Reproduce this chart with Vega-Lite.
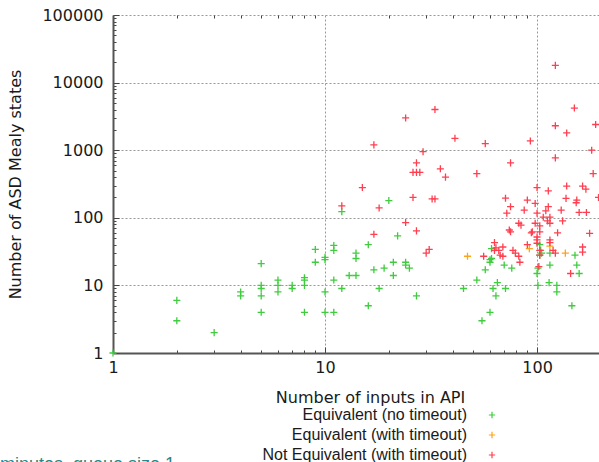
{
  "$schema": "https://vega.github.io/schema/vega-lite/v6.json",
  "width": 486,
  "height": 338,
  "autosize": {"type": "none"},
  "padding": {"left": 113, "top": 15, "right": 0, "bottom": 109},
  "title": {
    "text": "minutes, queue size 1",
    "orient": "bottom",
    "anchor": "start",
    "frame": "group",
    "dx": -113,
    "dy": -11,
    "font": "Liberation Sans",
    "fontSize": 18,
    "fontWeight": "normal",
    "color": "#2e8585"
  },
  "data": {
    "values": [
      {"n": 1, "s": 1, "r": "Equivalent (no timeout)"},
      {"n": 2, "s": 6, "r": "Equivalent (no timeout)"},
      {"n": 2, "s": 3, "r": "Equivalent (no timeout)"},
      {"n": 3, "s": 2, "r": "Equivalent (no timeout)"},
      {"n": 4, "s": 8, "r": "Equivalent (no timeout)"},
      {"n": 4, "s": 7, "r": "Equivalent (no timeout)"},
      {"n": 5, "s": 21, "r": "Equivalent (no timeout)"},
      {"n": 5, "s": 10, "r": "Equivalent (no timeout)"},
      {"n": 5, "s": 9, "r": "Equivalent (no timeout)"},
      {"n": 5, "s": 7, "r": "Equivalent (no timeout)"},
      {"n": 5, "s": 4, "r": "Equivalent (no timeout)"},
      {"n": 6, "s": 12, "r": "Equivalent (no timeout)"},
      {"n": 6, "s": 10, "r": "Equivalent (no timeout)"},
      {"n": 6, "s": 8, "r": "Equivalent (no timeout)"},
      {"n": 7, "s": 10, "r": "Equivalent (no timeout)"},
      {"n": 7, "s": 9, "r": "Equivalent (no timeout)"},
      {"n": 8, "s": 13, "r": "Equivalent (no timeout)"},
      {"n": 8, "s": 12, "r": "Equivalent (no timeout)"},
      {"n": 8, "s": 10, "r": "Equivalent (no timeout)"},
      {"n": 8, "s": 4, "r": "Equivalent (no timeout)"},
      {"n": 9, "s": 34, "r": "Equivalent (no timeout)"},
      {"n": 9, "s": 22, "r": "Equivalent (no timeout)"},
      {"n": 10, "s": 26, "r": "Equivalent (no timeout)"},
      {"n": 10, "s": 24, "r": "Equivalent (no timeout)"},
      {"n": 10, "s": 8, "r": "Equivalent (no timeout)"},
      {"n": 10, "s": 4, "r": "Equivalent (no timeout)"},
      {"n": 11, "s": 39, "r": "Equivalent (no timeout)"},
      {"n": 11, "s": 33, "r": "Equivalent (no timeout)"},
      {"n": 11, "s": 12, "r": "Equivalent (no timeout)"},
      {"n": 11, "s": 4, "r": "Equivalent (no timeout)"},
      {"n": 12, "s": 123, "r": "Equivalent (no timeout)"},
      {"n": 12, "s": 9, "r": "Equivalent (no timeout)"},
      {"n": 13, "s": 14, "r": "Equivalent (no timeout)"},
      {"n": 14, "s": 30, "r": "Equivalent (no timeout)"},
      {"n": 14, "s": 25, "r": "Equivalent (no timeout)"},
      {"n": 14, "s": 14, "r": "Equivalent (no timeout)"},
      {"n": 16, "s": 40, "r": "Equivalent (no timeout)"},
      {"n": 16, "s": 5, "r": "Equivalent (no timeout)"},
      {"n": 17, "s": 17, "r": "Equivalent (no timeout)"},
      {"n": 18, "s": 9, "r": "Equivalent (no timeout)"},
      {"n": 19, "s": 18, "r": "Equivalent (no timeout)"},
      {"n": 20, "s": 180, "r": "Equivalent (no timeout)"},
      {"n": 21, "s": 22, "r": "Equivalent (no timeout)"},
      {"n": 21, "s": 14, "r": "Equivalent (no timeout)"},
      {"n": 22, "s": 54, "r": "Equivalent (no timeout)"},
      {"n": 24, "s": 22, "r": "Equivalent (no timeout)"},
      {"n": 24, "s": 20, "r": "Equivalent (no timeout)"},
      {"n": 25, "s": 18, "r": "Equivalent (no timeout)"},
      {"n": 27, "s": 7, "r": "Equivalent (no timeout)"},
      {"n": 45, "s": 9, "r": "Equivalent (no timeout)"},
      {"n": 52, "s": 12, "r": "Equivalent (no timeout)"},
      {"n": 55, "s": 3, "r": "Equivalent (no timeout)"},
      {"n": 57, "s": 17, "r": "Equivalent (no timeout)"},
      {"n": 60, "s": 4, "r": "Equivalent (no timeout)"},
      {"n": 60, "s": 24, "r": "Equivalent (no timeout)"},
      {"n": 60, "s": 22, "r": "Equivalent (no timeout)"},
      {"n": 61, "s": 35, "r": "Equivalent (no timeout)"},
      {"n": 61, "s": 25, "r": "Equivalent (no timeout)"},
      {"n": 62, "s": 9, "r": "Equivalent (no timeout)"},
      {"n": 64, "s": 7, "r": "Equivalent (no timeout)"},
      {"n": 65, "s": 11, "r": "Equivalent (no timeout)"},
      {"n": 70, "s": 20, "r": "Equivalent (no timeout)"},
      {"n": 71, "s": 9, "r": "Equivalent (no timeout)"},
      {"n": 76, "s": 18, "r": "Equivalent (no timeout)"},
      {"n": 100, "s": 15, "r": "Equivalent (no timeout)"},
      {"n": 101, "s": 10, "r": "Equivalent (no timeout)"},
      {"n": 101, "s": 18, "r": "Equivalent (no timeout)"},
      {"n": 103, "s": 40, "r": "Equivalent (no timeout)"},
      {"n": 104, "s": 33, "r": "Equivalent (no timeout)"},
      {"n": 105, "s": 30, "r": "Equivalent (no timeout)"},
      {"n": 103, "s": 28, "r": "Equivalent (no timeout)"},
      {"n": 114, "s": 11, "r": "Equivalent (no timeout)"},
      {"n": 115, "s": 20, "r": "Equivalent (no timeout)"},
      {"n": 115, "s": 30, "r": "Equivalent (no timeout)"},
      {"n": 124, "s": 10, "r": "Equivalent (no timeout)"},
      {"n": 124, "s": 8, "r": "Equivalent (no timeout)"},
      {"n": 146, "s": 5, "r": "Equivalent (no timeout)"},
      {"n": 151, "s": 28, "r": "Equivalent (no timeout)"},
      {"n": 154, "s": 20, "r": "Equivalent (no timeout)"},
      {"n": 158, "s": 15, "r": "Equivalent (no timeout)"},
      {"n": 47, "s": 27, "r": "Equivalent (with timeout)"},
      {"n": 92, "s": 35, "r": "Equivalent (with timeout)"},
      {"n": 115, "s": 38, "r": "Equivalent (with timeout)"},
      {"n": 136, "s": 30, "r": "Equivalent (with timeout)"},
      {"n": 12, "s": 150, "r": "Not Equivalent (with timeout)"},
      {"n": 15, "s": 280, "r": "Not Equivalent (with timeout)"},
      {"n": 17, "s": 1200, "r": "Not Equivalent (with timeout)"},
      {"n": 17, "s": 57, "r": "Not Equivalent (with timeout)"},
      {"n": 18, "s": 140, "r": "Not Equivalent (with timeout)"},
      {"n": 24, "s": 3000, "r": "Not Equivalent (with timeout)"},
      {"n": 24, "s": 85, "r": "Not Equivalent (with timeout)"},
      {"n": 26, "s": 200, "r": "Not Equivalent (with timeout)"},
      {"n": 26, "s": 470, "r": "Not Equivalent (with timeout)"},
      {"n": 27, "s": 470, "r": "Not Equivalent (with timeout)"},
      {"n": 28, "s": 470, "r": "Not Equivalent (with timeout)"},
      {"n": 27, "s": 650, "r": "Not Equivalent (with timeout)"},
      {"n": 27, "s": 64, "r": "Not Equivalent (with timeout)"},
      {"n": 29, "s": 950, "r": "Not Equivalent (with timeout)"},
      {"n": 30, "s": 30, "r": "Not Equivalent (with timeout)"},
      {"n": 31, "s": 34, "r": "Not Equivalent (with timeout)"},
      {"n": 32, "s": 190, "r": "Not Equivalent (with timeout)"},
      {"n": 33, "s": 190, "r": "Not Equivalent (with timeout)"},
      {"n": 33, "s": 4000, "r": "Not Equivalent (with timeout)"},
      {"n": 35, "s": 530, "r": "Not Equivalent (with timeout)"},
      {"n": 37, "s": 400, "r": "Not Equivalent (with timeout)"},
      {"n": 41, "s": 1500, "r": "Not Equivalent (with timeout)"},
      {"n": 52, "s": 450, "r": "Not Equivalent (with timeout)"},
      {"n": 56, "s": 27, "r": "Not Equivalent (with timeout)"},
      {"n": 57, "s": 1250, "r": "Not Equivalent (with timeout)"},
      {"n": 63, "s": 43, "r": "Not Equivalent (with timeout)"},
      {"n": 63, "s": 33, "r": "Not Equivalent (with timeout)"},
      {"n": 64, "s": 36, "r": "Not Equivalent (with timeout)"},
      {"n": 66, "s": 33, "r": "Not Equivalent (with timeout)"},
      {"n": 67, "s": 28, "r": "Not Equivalent (with timeout)"},
      {"n": 69, "s": 37, "r": "Not Equivalent (with timeout)"},
      {"n": 69, "s": 27, "r": "Not Equivalent (with timeout)"},
      {"n": 71, "s": 195, "r": "Not Equivalent (with timeout)"},
      {"n": 72, "s": 117, "r": "Not Equivalent (with timeout)"},
      {"n": 74, "s": 66, "r": "Not Equivalent (with timeout)"},
      {"n": 75, "s": 62, "r": "Not Equivalent (with timeout)"},
      {"n": 75, "s": 146, "r": "Not Equivalent (with timeout)"},
      {"n": 75, "s": 650, "r": "Not Equivalent (with timeout)"},
      {"n": 77, "s": 33, "r": "Not Equivalent (with timeout)"},
      {"n": 79, "s": 30, "r": "Not Equivalent (with timeout)"},
      {"n": 82, "s": 83, "r": "Not Equivalent (with timeout)"},
      {"n": 84, "s": 78, "r": "Not Equivalent (with timeout)"},
      {"n": 82, "s": 27, "r": "Not Equivalent (with timeout)"},
      {"n": 83, "s": 22, "r": "Not Equivalent (with timeout)"},
      {"n": 87, "s": 130, "r": "Not Equivalent (with timeout)"},
      {"n": 90, "s": 183, "r": "Not Equivalent (with timeout)"},
      {"n": 90, "s": 40, "r": "Not Equivalent (with timeout)"},
      {"n": 93, "s": 1370, "r": "Not Equivalent (with timeout)"},
      {"n": 94, "s": 60, "r": "Not Equivalent (with timeout)"},
      {"n": 95, "s": 62, "r": "Not Equivalent (with timeout)"},
      {"n": 98, "s": 163, "r": "Not Equivalent (with timeout)"},
      {"n": 98, "s": 83, "r": "Not Equivalent (with timeout)"},
      {"n": 100, "s": 280, "r": "Not Equivalent (with timeout)"},
      {"n": 100, "s": 117, "r": "Not Equivalent (with timeout)"},
      {"n": 100, "s": 52, "r": "Not Equivalent (with timeout)"},
      {"n": 100, "s": 47, "r": "Not Equivalent (with timeout)"},
      {"n": 100, "s": 42, "r": "Not Equivalent (with timeout)"},
      {"n": 102, "s": 19, "r": "Not Equivalent (with timeout)"},
      {"n": 103, "s": 76, "r": "Not Equivalent (with timeout)"},
      {"n": 103, "s": 62, "r": "Not Equivalent (with timeout)"},
      {"n": 103, "s": 33, "r": "Not Equivalent (with timeout)"},
      {"n": 103, "s": 28, "r": "Not Equivalent (with timeout)"},
      {"n": 107, "s": 102, "r": "Not Equivalent (with timeout)"},
      {"n": 110, "s": 127, "r": "Not Equivalent (with timeout)"},
      {"n": 112, "s": 90, "r": "Not Equivalent (with timeout)"},
      {"n": 113, "s": 250, "r": "Not Equivalent (with timeout)"},
      {"n": 113, "s": 146, "r": "Not Equivalent (with timeout)"},
      {"n": 115, "s": 102, "r": "Not Equivalent (with timeout)"},
      {"n": 115, "s": 83, "r": "Not Equivalent (with timeout)"},
      {"n": 115, "s": 47, "r": "Not Equivalent (with timeout)"},
      {"n": 115, "s": 43, "r": "Not Equivalent (with timeout)"},
      {"n": 119, "s": 33, "r": "Not Equivalent (with timeout)"},
      {"n": 122, "s": 30, "r": "Not Equivalent (with timeout)"},
      {"n": 122, "s": 18000, "r": "Not Equivalent (with timeout)"},
      {"n": 122, "s": 2300, "r": "Not Equivalent (with timeout)"},
      {"n": 122, "s": 770, "r": "Not Equivalent (with timeout)"},
      {"n": 125, "s": 60, "r": "Not Equivalent (with timeout)"},
      {"n": 130, "s": 130, "r": "Not Equivalent (with timeout)"},
      {"n": 132, "s": 90, "r": "Not Equivalent (with timeout)"},
      {"n": 137, "s": 194, "r": "Not Equivalent (with timeout)"},
      {"n": 138, "s": 295, "r": "Not Equivalent (with timeout)"},
      {"n": 138, "s": 1800, "r": "Not Equivalent (with timeout)"},
      {"n": 144, "s": 15, "r": "Not Equivalent (with timeout)"},
      {"n": 150, "s": 4200, "r": "Not Equivalent (with timeout)"},
      {"n": 153, "s": 167, "r": "Not Equivalent (with timeout)"},
      {"n": 154, "s": 183, "r": "Not Equivalent (with timeout)"},
      {"n": 158, "s": 120, "r": "Not Equivalent (with timeout)"},
      {"n": 164, "s": 295, "r": "Not Equivalent (with timeout)"},
      {"n": 164, "s": 37, "r": "Not Equivalent (with timeout)"},
      {"n": 164, "s": 31, "r": "Not Equivalent (with timeout)"},
      {"n": 170, "s": 265, "r": "Not Equivalent (with timeout)"},
      {"n": 171, "s": 120, "r": "Not Equivalent (with timeout)"},
      {"n": 177, "s": 59, "r": "Not Equivalent (with timeout)"},
      {"n": 181, "s": 1000, "r": "Not Equivalent (with timeout)"},
      {"n": 184, "s": 450, "r": "Not Equivalent (with timeout)"},
      {"n": 189, "s": 2400, "r": "Not Equivalent (with timeout)"},
      {"n": 195, "s": 200, "r": "Not Equivalent (with timeout)"}
    ]
  },
  "layer": [
    {
      "mark": {"type": "point", "shape": "M-1,0H1M0,-1V1", "filled": false, "strokeWidth": 1.3, "size": 50, "opacity": 1},
      "encoding": {
        "x": {
          "field": "n", "type": "quantitative",
          "scale": {"type": "log", "domain": [1, 196], "nice": false},
          "axis": {
            "orient": "bottom",
            "values": [1,2,3,4,5,6,7,8,9,10,20,30,40,50,60,70,80,90,100],
            "labelExpr": "indexof([1,10,100], datum.value) >= 0 ? format(datum.value, 'd') : ''",
            "title": "Number of inputs in API",
            "titleX": 257,
            "titleY": 44,
            "titleBaseline": "middle",
            "titleAnchor": "start",
            "titleAlign": "center",
            "grid": true,
            "gridOpacity": {"condition": {"test": "indexof([1,10,100], datum.value) >= 0", "value": 1}, "value": 0},
            "tickSize": {"condition": {"test": "indexof([1,10,100], datum.value) >= 0", "value": -6}, "value": -3},
            "labelPadding": 12,
            "labelFlush": false,
            "labelOverlap": false
          }
        },
        "y": {
          "field": "s", "type": "quantitative",
          "scale": {"type": "log", "domain": [1, 100000], "nice": false},
          "axis": {
            "values": [1,2,3,4,5,6,7,8,9,10,20,30,40,50,60,70,80,90,100,200,300,400,500,600,700,800,900,1000,2000,3000,4000,5000,6000,7000,8000,9000,10000,20000,30000,40000,50000,60000,70000,80000,90000,100000],
            "labelExpr": "indexof([1,10,100,1000,10000,100000], datum.value) >= 0 ? format(datum.value, 'd') : ''",
            "title": "Number of ASD Mealy states",
            "titleX": -98,
            "titleY": 169,
            "titleBaseline": "middle",
            "titleAnchor": "start",
            "titleAlign": "center",
            "titleAngle": -90,
            "grid": true,
            "gridOpacity": {"condition": {"test": "indexof([1,10,100,1000,10000,100000], datum.value) >= 0", "value": 1}, "value": 0},
            "tickSize": {"condition": {"test": "indexof([1,10,100,1000,10000,100000], datum.value) >= 0", "value": -6}, "value": -3},
            "labelPadding": 16,
            "labelFlush": false,
            "labelOverlap": false
          }
        },
        "color": {
          "field": "r", "type": "nominal",
          "scale": {
            "domain": ["Equivalent (no timeout)", "Equivalent (with timeout)", "Not Equivalent (with timeout)"],
            "range": ["#3fcc3f", "#ffa31a", "#ff3f4f"]
          },
          "legend": {
            "orient": "none",
            "legendX": 371,
            "legendY": 392,
            "title": null,
            "padding": 0,
            "symbolType": "M-1,0H1M0,-1V1",
            "symbolSize": 40,
            "symbolStrokeWidth": 1.2,
            "symbolFillColor": "transparent",
            "labelAlign": "right",
            "labelOffset": -33,
            "labelFontSize": 16,
            "labelFont": "Liberation Sans",
            "labelColor": "#1a1a1a",
            "rowPadding": 4,
            "labelLimit": 400
          }
        }
      }
    },
    {
      "mark": {"type": "point", "opacity": 0},
      "encoding": {
        "x": {
          "field": "n", "type": "quantitative",
          "axis": {
            "orient": "top",
            "values": [2,3,4,5,6,7,8,9,20,30,40,50,60,70,80,90],
            "labels": false,
            "domain": false,
            "grid": false,
            "title": null,
            "tickSize": -3
          }
        },
        "y": {"field": "s", "type": "quantitative"}
      }
    }
  ],
  "resolve": {"axis": {"x": "independent"}},
  "config": {
    "view": {"stroke": null},
    "font": "DejaVu Sans",
    "axis": {
      "labelFont": "DejaVu Sans",
      "labelFontSize": 16,
      "labelColor": "#1a1a1a",
      "titleFont": "DejaVu Sans",
      "titleFontSize": 16,
      "titleFontWeight": "normal",
      "titleColor": "#1a1a1a",
      "domainColor": "#555555",
      "domainWidth": 2,
      "tickColor": "#444444",
      "tickWidth": 1,
      "gridColor": "#999999",
      "gridDash": [2, 2],
      "gridWidth": 1
    }
  }
}
